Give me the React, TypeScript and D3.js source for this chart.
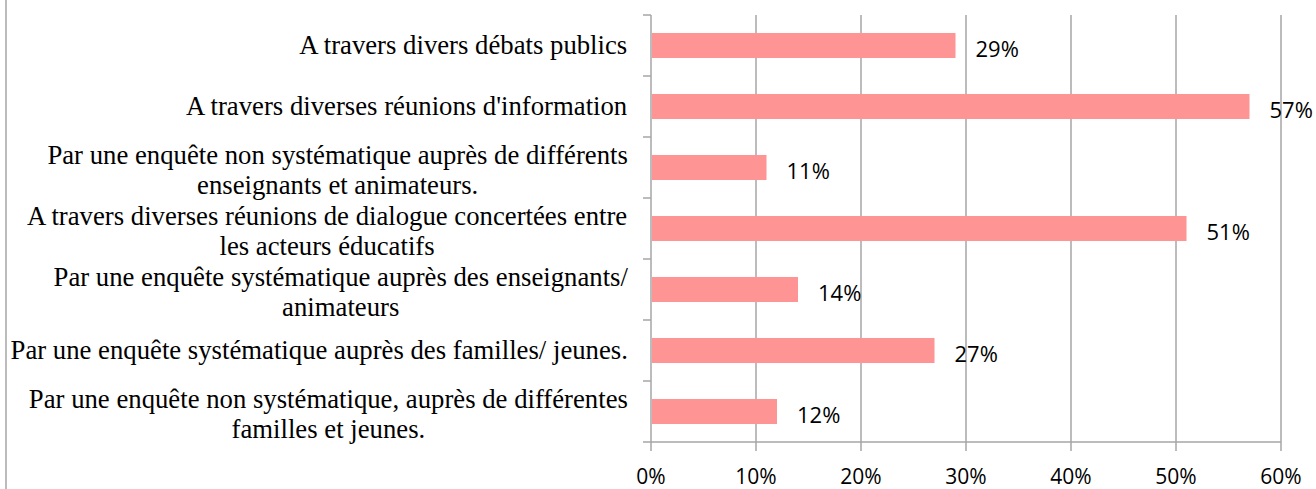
import React from "react";
import { scaleLinear, scaleBand, range } from "d3";

// categories, top to bottom, already broken into lines as in the picture
const categories = [
  ["A travers divers débats publics"],
  ["A travers diverses réunions d'information"],
  ["Par une enquête non systématique auprès de différents", "enseignants et animateurs."],
  ["A travers diverses réunions de dialogue concertées entre", "les acteurs éducatifs"],
  ["Par une enquête systématique auprès des enseignants/", "animateurs"],
  ["Par une enquête systématique auprès des familles/ jeunes."],
  ["Par une enquête non systématique, auprès de différentes", "familles et jeunes."],
];
const values = [29, 57, 11, 51, 14, 27, 12];
const xTicks = [0, 10, 20, 30, 40, 50, 60];

const WIDTH = 1316;
const HEIGHT = 489;
const GRAY = "#a6a6a6";
const BAR = "#ff9494";
const SERIF = "'Liberation Serif', 'Times New Roman', serif";
const SANS = "'Open Sans', sans-serif";
const SERIF_SIZE = 27.5;
const SX = 0.972; // the labels are slightly narrow

let ctx: CanvasRenderingContext2D | null = null;
const measure = (s: string) => {
  if (!ctx) ctx = document.createElement("canvas").getContext("2d");
  if (!ctx) return s.length * 11;
  ctx.font = `${SERIF_SIZE}px ${SERIF}`;
  return ctx.measureText(s).width * SX;
};

const App = () => {
  const left = 651;
  const top = 15;
  const bottom = 442;
  const labelRight = 628;

  const x = scaleLinear().domain([0, 60]).range([left, 1281]);
  const idx = range(categories.length);
  const y = scaleBand<number>()
    .domain(idx)
    .range([top, bottom])
    .paddingInner(0.59)
    .paddingOuter(0.295);
  const step = y.step();
  const bw = y.bandwidth();

  return (
    <div style={{ position: "absolute", left: 0, top: 0 }}>
      <svg width={WIDTH} height={HEIGHT} viewBox={`0 0 ${WIDTH} ${HEIGHT}`} style={{ display: "block" }}>
        <rect width={WIDTH} height={HEIGHT} fill="#fff" />
        <line x1={6} x2={6} y1={0} y2={HEIGHT} stroke={GRAY} strokeWidth={1.5} />

        {/* gridlines + bottom ticks */}
        {xTicks.map((t) => (
          <g key={t}>
            <line x1={x(t)} x2={x(t)} y1={top} y2={bottom + 9} stroke={GRAY} strokeWidth={1.5} />
            <text x={x(t)} y={484} textAnchor="middle" fontFamily={SANS} fontSize={21} fill="#000">
              {`${t}%`}
            </text>
          </g>
        ))}
        <line x1={left} x2={x(60)} y1={bottom} y2={bottom} stroke={GRAY} strokeWidth={1.5} />

        {/* left ticks at band boundaries */}
        {range(categories.length + 1).map((k) => (
          <line key={k} x1={left - 8} x2={left} y1={top + k * step} y2={top + k * step} stroke={GRAY} strokeWidth={1.5} />
        ))}

        {/* bars */}
        {values.map((v, i) => (
          <rect key={i} x={x(0) + 1} y={y(i)} width={x(v) - x(0) - 1} height={bw} fill={BAR} />
        ))}

        {/* value labels */}
        {values.map((v, i) => (
          <text
            key={i}
            x={x(v) + 20}
            y={(y(i) as number) + bw / 2 + 11}
            fontFamily={SANS}
            fontSize={22}
            fill="#000"
          >
            {`${v}%`}
          </text>
        ))}

        {/* category labels */}
        {categories.map((lines, i) => {
          const c = (y(i) as number) + bw / 2;
          const maxW = Math.max(...lines.map(measure));
          const cx = labelRight - maxW / 2;
          const n = lines.length;
          return (
            <text
              key={i}
              transform={`translate(${cx},0) scale(${SX},1)`}
              fontFamily={SERIF}
              fontSize={SERIF_SIZE}
              fill="#000"
              textAnchor="middle"
            >
              {lines.map((l, j) => (
                <tspan key={j} x={0} y={c + 9 + (n > 1 ? 3 : 0) + (j - (n - 1) / 2) * 30}>
                  {l}
                </tspan>
              ))}
            </text>
          );
        })}
      </svg>
    </div>
  );
};

export default App;
